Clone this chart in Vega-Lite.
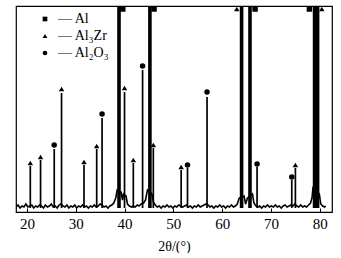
{
  "$schema": "https://vega.github.io/schema/vega-lite/v6.json",
  "width": 316,
  "height": 206,
  "padding": {"left": 16, "top": 6, "right": 9, "bottom": 0},
  "background": "white",
  "config": {
    "view": {"stroke": "black", "strokeWidth": 1.2},
    "font": "Liberation Serif"
  },
  "datasets": {
    "trace": [
      {"theta": 17.8, "intensity": 5}, {"theta": 18.2, "intensity": 7}, {"theta": 18.6, "intensity": 4}, {"theta": 19.0, "intensity": 6},
      {"theta": 19.4, "intensity": 5}, {"theta": 19.8, "intensity": 8}, {"theta": 20.2, "intensity": 5}, {"theta": 20.6, "intensity": 6},
      {"theta": 21.0, "intensity": 7}, {"theta": 21.4, "intensity": 4}, {"theta": 21.8, "intensity": 6}, {"theta": 22.2, "intensity": 5},
      {"theta": 22.6, "intensity": 7}, {"theta": 23.0, "intensity": 6}, {"theta": 23.4, "intensity": 4}, {"theta": 23.8, "intensity": 7},
      {"theta": 24.2, "intensity": 5}, {"theta": 24.6, "intensity": 6}, {"theta": 25.0, "intensity": 8}, {"theta": 25.4, "intensity": 5},
      {"theta": 25.8, "intensity": 6}, {"theta": 26.2, "intensity": 4}, {"theta": 26.6, "intensity": 7}, {"theta": 27.0, "intensity": 8},
      {"theta": 27.4, "intensity": 6}, {"theta": 27.8, "intensity": 5}, {"theta": 28.2, "intensity": 7}, {"theta": 28.6, "intensity": 4},
      {"theta": 29.0, "intensity": 6}, {"theta": 29.4, "intensity": 5}, {"theta": 29.8, "intensity": 7}, {"theta": 30.2, "intensity": 4},
      {"theta": 30.6, "intensity": 6}, {"theta": 31.0, "intensity": 5}, {"theta": 31.4, "intensity": 7}, {"theta": 31.8, "intensity": 5},
      {"theta": 32.2, "intensity": 6}, {"theta": 32.6, "intensity": 4}, {"theta": 33.0, "intensity": 6}, {"theta": 33.4, "intensity": 5},
      {"theta": 33.8, "intensity": 7}, {"theta": 34.2, "intensity": 5}, {"theta": 34.6, "intensity": 6}, {"theta": 35.0, "intensity": 8},
      {"theta": 35.4, "intensity": 7}, {"theta": 35.8, "intensity": 5}, {"theta": 36.2, "intensity": 6}, {"theta": 36.6, "intensity": 4},
      {"theta": 37.0, "intensity": 6}, {"theta": 37.4, "intensity": 7}, {"theta": 37.8, "intensity": 9}, {"theta": 38.2, "intensity": 14},
      {"theta": 38.5, "intensity": 22}, {"theta": 39.3, "intensity": 20}, {"theta": 39.6, "intensity": 12}, {"theta": 39.8, "intensity": 18},
      {"theta": 40.3, "intensity": 16}, {"theta": 40.6, "intensity": 8}, {"theta": 41.0, "intensity": 6}, {"theta": 41.4, "intensity": 5},
      {"theta": 41.8, "intensity": 6}, {"theta": 42.2, "intensity": 5}, {"theta": 42.6, "intensity": 7}, {"theta": 43.0, "intensity": 6},
      {"theta": 43.4, "intensity": 8}, {"theta": 43.9, "intensity": 9}, {"theta": 44.3, "intensity": 12}, {"theta": 44.7, "intensity": 22},
      {"theta": 45.6, "intensity": 18}, {"theta": 45.9, "intensity": 10}, {"theta": 46.3, "intensity": 7}, {"theta": 46.7, "intensity": 5},
      {"theta": 47.1, "intensity": 6}, {"theta": 47.5, "intensity": 4}, {"theta": 47.9, "intensity": 6}, {"theta": 48.3, "intensity": 5},
      {"theta": 48.7, "intensity": 7}, {"theta": 49.1, "intensity": 5}, {"theta": 49.5, "intensity": 6}, {"theta": 49.9, "intensity": 4},
      {"theta": 50.3, "intensity": 6}, {"theta": 50.7, "intensity": 5}, {"theta": 51.1, "intensity": 7}, {"theta": 51.5, "intensity": 6},
      {"theta": 51.9, "intensity": 5}, {"theta": 52.3, "intensity": 6}, {"theta": 52.7, "intensity": 7}, {"theta": 53.1, "intensity": 5},
      {"theta": 53.5, "intensity": 6}, {"theta": 53.9, "intensity": 4}, {"theta": 54.3, "intensity": 6}, {"theta": 54.7, "intensity": 5},
      {"theta": 55.1, "intensity": 7}, {"theta": 55.5, "intensity": 5}, {"theta": 55.9, "intensity": 6}, {"theta": 56.3, "intensity": 7},
      {"theta": 56.7, "intensity": 8}, {"theta": 57.1, "intensity": 7}, {"theta": 57.5, "intensity": 5}, {"theta": 57.9, "intensity": 6},
      {"theta": 58.3, "intensity": 4}, {"theta": 58.7, "intensity": 6}, {"theta": 59.1, "intensity": 5}, {"theta": 59.5, "intensity": 7},
      {"theta": 59.9, "intensity": 5}, {"theta": 60.3, "intensity": 6}, {"theta": 60.7, "intensity": 4}, {"theta": 61.1, "intensity": 6},
      {"theta": 61.5, "intensity": 5}, {"theta": 61.9, "intensity": 7}, {"theta": 62.3, "intensity": 5}, {"theta": 62.7, "intensity": 6},
      {"theta": 63.1, "intensity": 8}, {"theta": 63.5, "intensity": 14}, {"theta": 64.5, "intensity": 16}, {"theta": 64.8, "intensity": 8},
      {"theta": 65.2, "intensity": 14}, {"theta": 66.2, "intensity": 18}, {"theta": 66.5, "intensity": 9}, {"theta": 66.9, "intensity": 6},
      {"theta": 67.3, "intensity": 5}, {"theta": 67.7, "intensity": 6}, {"theta": 68.1, "intensity": 4}, {"theta": 68.5, "intensity": 6},
      {"theta": 68.9, "intensity": 5}, {"theta": 69.3, "intensity": 7}, {"theta": 69.7, "intensity": 5}, {"theta": 70.1, "intensity": 6},
      {"theta": 70.5, "intensity": 5}, {"theta": 70.9, "intensity": 7}, {"theta": 71.3, "intensity": 5}, {"theta": 71.7, "intensity": 6},
      {"theta": 72.1, "intensity": 4}, {"theta": 72.5, "intensity": 6}, {"theta": 72.9, "intensity": 7}, {"theta": 73.3, "intensity": 5},
      {"theta": 73.7, "intensity": 6}, {"theta": 74.1, "intensity": 7}, {"theta": 74.5, "intensity": 6}, {"theta": 74.9, "intensity": 8},
      {"theta": 75.3, "intensity": 6}, {"theta": 75.7, "intensity": 5}, {"theta": 76.1, "intensity": 7}, {"theta": 76.5, "intensity": 5},
      {"theta": 76.9, "intensity": 6}, {"theta": 77.3, "intensity": 5}, {"theta": 77.7, "intensity": 7}, {"theta": 78.1, "intensity": 9},
      {"theta": 78.4, "intensity": 14}, {"theta": 78.6, "intensity": 24}, {"theta": 79.9, "intensity": 18}, {"theta": 80.2, "intensity": 8},
      {"theta": 80.6, "intensity": 6}, {"theta": 81.0, "intensity": 5}, {"theta": 81.2, "intensity": 6}
    ],
    "peaks": [
      {"theta": 20.7, "intensity": 46}, {"theta": 22.8, "intensity": 52}, {"theta": 25.6, "intensity": 63},
      {"theta": 27.1, "intensity": 119}, {"theta": 31.7, "intensity": 47}, {"theta": 34.3, "intensity": 63},
      {"theta": 35.4, "intensity": 94}, {"theta": 38.87, "intensity": 300}, {"theta": 40.0, "intensity": 120},
      {"theta": 41.8, "intensity": 49}, {"theta": 43.7, "intensity": 142}, {"theta": 45.2, "intensity": 300},
      {"theta": 45.9, "intensity": 64}, {"theta": 51.6, "intensity": 42}, {"theta": 52.9, "intensity": 44},
      {"theta": 56.9, "intensity": 115}, {"theta": 63.98, "intensity": 300}, {"theta": 65.7, "intensity": 300},
      {"theta": 67.15, "intensity": 45}, {"theta": 74.26, "intensity": 32}, {"theta": 75.0, "intensity": 44},
      {"theta": 78.93, "intensity": 300}, {"theta": 79.55, "intensity": 300}
    ],
    "markers": [
      {"theta": 20.7, "intensity": 49, "phase": "Al₃Zr"},
      {"theta": 22.8, "intensity": 55, "phase": "Al₃Zr"},
      {"theta": 25.6, "intensity": 67, "phase": "Al₂O₃"},
      {"theta": 27.1, "intensity": 123, "phase": "Al₃Zr"},
      {"theta": 31.7, "intensity": 50, "phase": "Al₃Zr"},
      {"theta": 34.3, "intensity": 66, "phase": "Al₃Zr"},
      {"theta": 35.4, "intensity": 98, "phase": "Al₂O₃"},
      {"theta": 39.65, "intensity": 203, "phase": "Al"},
      {"theta": 40.0, "intensity": 124, "phase": "Al₃Zr"},
      {"theta": 41.8, "intensity": 52, "phase": "Al₃Zr"},
      {"theta": 43.7, "intensity": 146, "phase": "Al₂O₃"},
      {"theta": 46.05, "intensity": 203, "phase": "Al"},
      {"theta": 45.9, "intensity": 67, "phase": "Al₃Zr"},
      {"theta": 51.6, "intensity": 45, "phase": "Al₃Zr"},
      {"theta": 52.9, "intensity": 47, "phase": "Al₂O₃"},
      {"theta": 56.9, "intensity": 120, "phase": "Al₂O₃"},
      {"theta": 63.0, "intensity": 203, "phase": "Al₃Zr"},
      {"theta": 66.74, "intensity": 203, "phase": "Al"},
      {"theta": 67.15, "intensity": 48, "phase": "Al₂O₃"},
      {"theta": 74.26, "intensity": 35, "phase": "Al₂O₃"},
      {"theta": 75.0, "intensity": 47, "phase": "Al₃Zr"},
      {"theta": 77.87, "intensity": 203, "phase": "Al"},
      {"theta": 80.41, "intensity": 203, "phase": "Al₃Zr"}
    ]
  },
  "encoding": {
    "x": {
      "field": "theta", "type": "quantitative",
      "scale": {"domain": [17.77, 82.5], "nice": false, "zero": false},
      "axis": {
        "values": [20, 30, 40, 50, 60, 70, 80],
        "title": "2θ/(°)",
        "titleFont": "Liberation Serif", "titleFontSize": 14, "titleFontWeight": "normal", "titleColor": "black",
        "titlePadding": 8,
        "labelFont": "Liberation Serif", "labelFontSize": 15, "labelColor": "black",
        "labelPadding": 8,
        "tickSize": -4, "tickColor": "black", "tickWidth": 1,
        "domain": false, "grid": false
      }
    },
    "y": {
      "field": "intensity", "type": "quantitative",
      "scale": {"domain": [0, 206], "nice": false, "zero": false},
      "axis": null
    }
  },
  "layer": [
    {
      "data": {"name": "trace"},
      "mark": {"type": "line", "color": "black", "strokeWidth": 1.6, "clip": true}
    },
    {
      "data": {"name": "peaks"},
      "mark": {"type": "rule", "color": "black", "clip": true},
      "encoding": {
        "y2": {"datum": 4},
        "strokeWidth": {"condition": {"test": "datum.intensity > 200", "value": 3.6}, "value": 1.7}
      }
    },
    {
      "data": {"name": "markers"},
      "mark": {"type": "point", "filled": true, "color": "black", "opacity": 1, "size": 30, "clip": true},
      "encoding": {
        "shape": {
          "field": "phase", "type": "nominal",
          "scale": {"domain": ["Al", "Al₃Zr", "Al₂O₃"], "range": ["square", "triangle-up", "circle"]},
          "legend": {
            "orient": "none", "legendX": 22, "legendY": 6,
            "title": null,
            "labelExpr": "'— ' + datum.label",
            "labelFont": "Liberation Serif", "labelFontSize": 14, "labelColor": "black",
            "labelOffset": 6,
            "symbolFillColor": "black", "symbolStrokeColor": "black", "symbolSize": 22,
            "rowPadding": 3, "padding": 0
          }
        }
      }
    }
  ]
}
